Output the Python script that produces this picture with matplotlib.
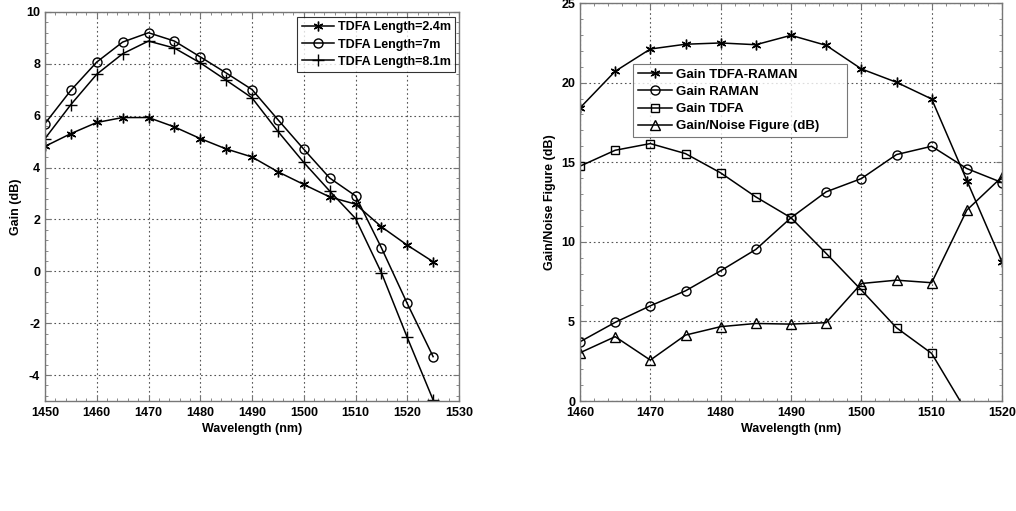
import matplotlib
matplotlib.use("Agg")
import matplotlib.pyplot as plt
import numpy as np
from matplotlib.ticker import MultipleLocator, AutoMinorLocator

plt.rcParams['font.family'] = ['Liberation Sans', 'DejaVu Sans']
plt.rcParams['font.weight'] = 'bold'
plt.rcParams['axes.unicode_minus'] = False

# ---- Left chart data ----
wl_left = [1450, 1455, 1460, 1465, 1470, 1475, 1480, 1485, 1490, 1495, 1500, 1505, 1510, 1515, 1520, 1525]
gain_24m = [4.82, 5.31, 5.74, 5.93, 5.93, 5.57, 5.12, 4.72, 4.41, 3.84, 3.35, 2.87, 2.59, 1.72, 1.01, 0.37]
gain_7m = [5.70, 6.98, 8.07, 8.84, 9.20, 8.88, 8.27, 7.65, 7.01, 5.85, 4.71, 3.60, 2.91, 0.91, -1.24, -3.29]
gain_81m = [5.12, 6.43, 7.60, 8.39, 8.88, 8.61, 8.04, 7.37, 6.69, 5.40, 4.20, 3.10, 2.04, -0.05, -2.55, -4.96]
labels_left = ["TDFA Length=2.4m", "TDFA Length=7m", "TDFA Length=8.1m"]

# ---- Right chart data ----
wl_right = [1460, 1465, 1470, 1475, 1480, 1485, 1490, 1495, 1500, 1505, 1510, 1515, 1520]
gain_hybrid = [18.41, 20.71, 22.11, 22.41, 22.49, 22.38, 22.97, 22.34, 20.86, 20.02, 18.97, 13.85, 8.74]
gain_raman = [3.72, 4.94, 5.98, 6.92, 8.18, 9.52, 11.51, 13.14, 13.97, 15.48, 16.00, 14.60, 13.72]
wl_tdfa = [1460, 1465, 1470, 1475, 1480, 1485, 1490, 1495, 1500, 1505, 1510, 1515]
gain_tdfa = [14.75, 15.75, 16.17, 15.54, 14.33, 12.82, 11.51, 9.27, 6.97, 4.60, 2.99, -0.70]
gain_nf = [3.03, 4.04, 2.57, 4.14, 4.67, 4.87, 4.83, 4.92, 7.38, 7.59, 7.43, 11.99, 14.08]
labels_right = ["Gain TDFA-RAMAN", "Gain RAMAN", "Gain TDFA", "Gain/Noise Figure (dB)"]

fig = plt.figure(figsize=(10.16, 5.11), dpi=100)
ax1 = fig.add_axes([45/1016, 1-401/511, (459-45)/1016, (401-12)/511])
ax2 = fig.add_axes([580/1016, 1-401/511, (1002-580)/1016, (401-3)/511])

lw = 1.1
mkw = dict(color='black', linewidth=lw, markerfacecolor='none', markeredgecolor='black', markeredgewidth=1.0)

ax1.plot(wl_left, gain_24m, marker=(6, 2, 0), markersize=7, label=labels_left[0], **mkw)
ax1.plot(wl_left, gain_7m, marker='o', markersize=6.5, label=labels_left[1], **mkw)
ax1.plot(wl_left, gain_81m, marker='+', markersize=8, label=labels_left[2], **mkw)
ax1.set_xlim(1450, 1530)
ax1.set_ylim(-5, 10)
ax1.xaxis.set_major_locator(MultipleLocator(10))
ax1.yaxis.set_major_locator(MultipleLocator(2))
ax1.set_xlabel("Wavelength (nm)", fontsize=9, fontweight='bold', labelpad=3)
ax1.set_ylabel("Gain (dB)", fontsize=9, fontweight='bold', labelpad=3)
leg1 = ax1.legend(loc='upper right', bbox_to_anchor=(1.0, 0.997), fontsize=9, frameon=True,
                  fancybox=False, edgecolor='black', handlelength=2.6, borderaxespad=0.3,
                  labelspacing=0.42, handletextpad=0.3, borderpad=0.35)
leg1.get_frame().set_linewidth(0.8)
for t in leg1.get_texts():
    t.set_fontweight('bold')

ax2.plot(wl_right, gain_hybrid, marker=(6, 2, 0), markersize=7, label=labels_right[0], **mkw)
ax2.plot(wl_right, gain_raman, marker='o', markersize=6.5, label=labels_right[1], **mkw)
ax2.plot(wl_tdfa, gain_tdfa, marker='s', markersize=5.5, label=labels_right[2], **mkw)
ax2.plot(wl_right, gain_nf, marker='^', markersize=6.5, label=labels_right[3], **mkw)
ax2.set_xlim(1460, 1520)
ax2.set_ylim(0, 25)
ax2.xaxis.set_major_locator(MultipleLocator(10))
ax2.yaxis.set_major_locator(MultipleLocator(5))
ax2.set_xlabel("Wavelength (nm)", fontsize=9, fontweight='bold', labelpad=3)
ax2.set_ylabel("Gain/Noise Figure (dB)", fontsize=9, fontweight='bold', labelpad=3.5)
x0 = (633 - 580) / 422
y1 = (401 - 64) / 398
y0 = (401 - 137) / 398
w = (847 - 633) / 422
leg2 = ax2.legend(loc='lower left', bbox_to_anchor=(x0, y0, w, y1 - y0), mode='expand',
                  fontsize=9.5, frameon=True, fancybox=False, edgecolor='#555555',
                  handlelength=2.6, borderaxespad=0.0, labelspacing=0.38,
                  handletextpad=0.3, borderpad=0.35)
leg2.get_frame().set_linewidth(0.8)
for t in leg2.get_texts():
    t.set_fontweight('bold')

for ax in (ax1, ax2):
    ax.grid(True, which='major', linestyle=(0, (1.5, 2.5)), color='#555555', linewidth=0.8)
    ax.xaxis.set_minor_locator(AutoMinorLocator(5))
    ax.yaxis.set_minor_locator(AutoMinorLocator(5))
    ax.tick_params(which='both', direction='in', top=True, right=True, colors='#777777',
                   labelcolor='black', labelsize=9)
    ax.tick_params(which='major', length=4)
    ax.tick_params(which='minor', length=2)
    ax.tick_params(axis='x', pad=4)
    for lab in ax.get_xticklabels() + ax.get_yticklabels():
        lab.set_fontweight('bold')
    for s in ax.spines.values():
        s.set_color('#777777')
        s.set_linewidth(1.0)

fig.savefig("out.png", dpi=100, facecolor='white')
